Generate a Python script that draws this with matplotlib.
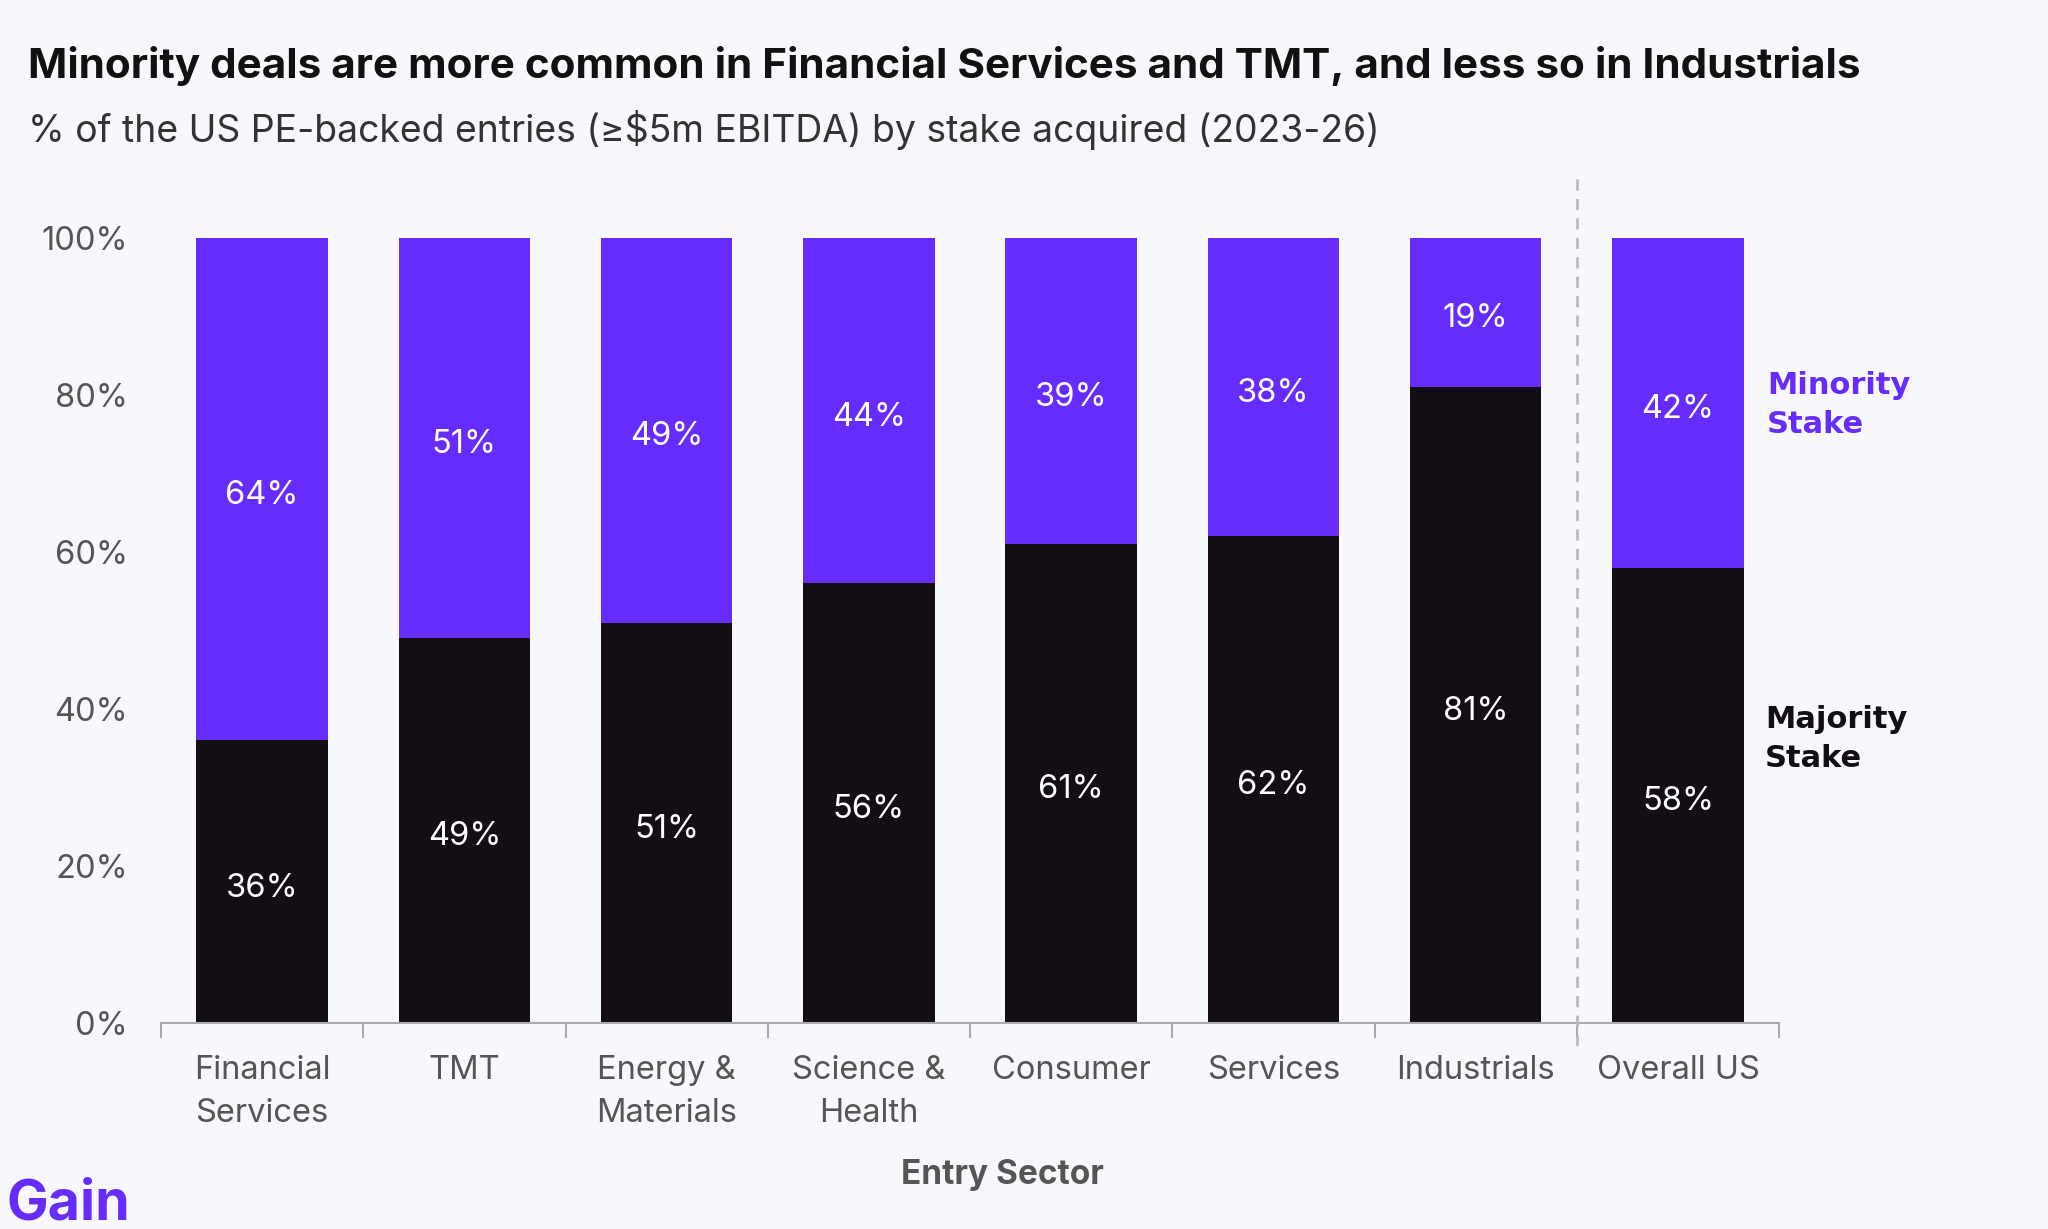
import numpy as np
import matplotlib.pyplot as plt

# Share of US PE-backed entries by stake acquired (2023-26)
sectors = ['Financial\nServices', 'TMT', 'Energy &\nMaterials', 'Science &\nHealth',
           'Consumer', 'Services', 'Industrials', 'Overall US']
majority = [36, 49, 51, 56, 61, 62, 81, 58]
minority = [64, 51, 49, 44, 39, 38, 19, 42]

purple = '#652CFD'
dark = '#130E15'
grey = '#555555'
bg = '#F7F8FB'

plt.rcParams['font.family'] = ['Inter', 'DejaVu Sans']


def main():
    fig = plt.figure(figsize=(20.48, 12.29), dpi=100, facecolor=bg)
    ax = fig.add_axes([0.0786, 0.1676, 0.7901, 0.6387], facecolor=bg)

    x = np.arange(len(sectors))
    width = 0.65
    ax.bar(x, majority, width, color=dark, zorder=2)
    ax.bar(x, minority, width, bottom=majority, color=purple, zorder=2)

    # value labels in the middle of each segment
    for xi, lo, hi in zip(x, majority, minority):
        ax.text(xi, lo / 2 - 0.8, f'{lo}%', ha='center', va='center', color='white', fontsize=23.5)
        ax.text(xi, lo + hi / 2 - 0.8, f'{hi}%', ha='center', va='center', color='white', fontsize=23.5)

    ax.set_xlim(-0.5, len(sectors) - 0.5)
    ax.set_ylim(0, 100)

    for s in ['top', 'right', 'left']:
        ax.spines[s].set_visible(False)
    ax.spines['bottom'].set_color('#aaaaaa')
    ax.spines['bottom'].set_linewidth(1.5)

    ax.set_yticks(np.arange(0, 101, 20))
    ax.set_yticklabels([f'{v}%' for v in range(0, 101, 20)])
    ax.tick_params(axis='y', length=0, pad=24, labelsize=23.5, labelcolor=grey)

    ax.set_xticks(x)
    ax.set_xticklabels(sectors, linespacing=1.5)
    ax.set_xticks(np.arange(-0.5, len(sectors)), minor=True)
    ax.tick_params(axis='x', which='major', length=0, pad=23, labelsize=23.5, labelcolor=grey)
    ax.tick_params(axis='x', which='minor', length=11, width=1.5, color='#aaaaaa')

    # separator between sectors and the overall figure
    ax.plot([6.5, 6.5], [1.075, -0.036], transform=ax.get_xaxis_transform(),
            color='#bbbbbb', lw=2, ls=(0, (4, 3)), clip_on=False, zorder=3)

    ax.set_xlabel('Entry Sector', fontsize=24, fontweight='bold', color=grey)
    ax.xaxis.set_label_coords(0.52, -0.173)

    # series labels on the right
    ax.text(7.44, 78.7, 'Minority\nStake', color=purple, fontsize=22, fontweight='bold',
            family='DejaVu Sans', va='center', ha='left', linespacing=1.45)
    ax.text(7.43, 36.2, 'Majority\nStake', color=dark, fontsize=22, fontweight='bold',
            family='DejaVu Sans', va='center', ha='left', linespacing=1.45)

    fig.text(0.0137, 0.946, 'Minority deals are more common in Financial Services and TMT, and less so in Industrials',
             fontsize=30.4, fontweight='bold', color='#111111', va='center', ha='left')
    fig.text(0.0137, 0.894, '% of the US PE-backed entries (≥$5m EBITDA) by stake acquired (2023-26)',
             fontsize=26.9, color='#333333', va='center', ha='left')

    fig.text(0.003, 0.02, 'Gain', fontsize=40, fontweight='bold', color=purple, va='center', ha='left')

    fig.savefig('out.png', dpi=100, facecolor=bg)


if __name__ == "__main__":
    main()
